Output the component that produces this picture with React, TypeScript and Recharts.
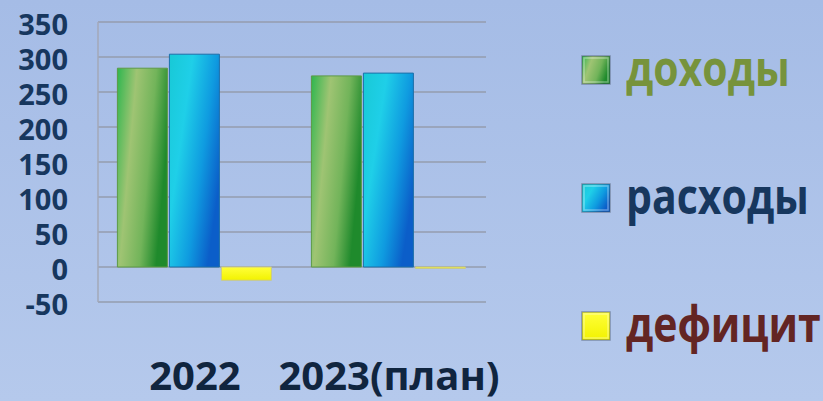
import React from 'react';
import { BarChart, Bar, XAxis, YAxis, CartesianGrid, Legend } from 'recharts';

const years = ['2022', '2023(план)'];
const income = [284, 273];
const expenses = [304, 277];
const deficit = [-19, -2];
const yTicks = [-50, 0, 50, 100, 150, 200, 250, 300, 350];

const seriesNames = ['доходы', 'расходы', 'дефицит'];
const seriesFills = ['url(#gIncome)', 'url(#gExpenses)', 'url(#gDeficit)'];
const legendTextColors = ['#77933c', '#17375e', '#632523'];

const data = years.map((year, i) => ({
  year,
  income: income[i],
  expenses: expenses[i],
  deficit: deficit[i],
}));

const font = '"Open Sans", "Noto Sans", sans-serif';

const LegendList = () => (
  <div style={{ fontFamily: font }}>
    {seriesNames.map((name, i) => (
      <div
        key={name}
        style={{ display: 'flex', alignItems: 'center', height: 128 }}
      >
        <svg width={30} height={30} style={{ marginRight: 15, flex: 'none' }}>
          <rect x={1} y={1} width={28} height={28} fill={seriesFills[i]} stroke="rgba(60,70,90,0.45)" strokeWidth={1.5} />
          <rect x={3} y={3} width={24} height={24} fill="none" stroke="rgba(255,255,255,0.35)" strokeWidth={1.5} />
        </svg>
        <span
          style={{
            fontSize: 50,
            fontWeight: 700,
            color: legendTextColors[i],
            lineHeight: 1,
            whiteSpace: 'nowrap',
            display: 'inline-block',
            transform: 'scaleX(0.82)',
            transformOrigin: 'left center',
            marginTop: -6,
          }}
        >
          {name}
        </span>
      </div>
    ))}
  </div>
);

const App: React.FC = () => {
  return (
    <div
      style={{
        position: 'absolute',
        left: 0,
        top: 0,
        width: 823,
        height: 401,
        background: 'linear-gradient(180deg, #a5bce6 0%, #b5c9ec 100%)',
        overflow: 'hidden',
      }}
    >
      <BarChart
        width={823}
        height={401}
        data={data}
        margin={{ top: 22, right: 337, bottom: 0, left: 0 }}
        barCategoryGap="10%"
        barGap={2}
      >
        <defs>
          <linearGradient id="gIncome" x1="0" y1="0" x2="1" y2="0.35">
            <stop offset="0%" stopColor="#2fb64f" />
            <stop offset="35%" stopColor="#9fc473" />
            <stop offset="70%" stopColor="#72b45a" />
            <stop offset="100%" stopColor="#1f8a2c" />
          </linearGradient>
          <linearGradient id="gExpenses" x1="0" y1="0" x2="1" y2="0.6">
            <stop offset="0%" stopColor="#18c9d6" />
            <stop offset="35%" stopColor="#1fcfe8" />
            <stop offset="70%" stopColor="#0f9be0" />
            <stop offset="100%" stopColor="#0b5ec9" />
          </linearGradient>
          <linearGradient id="gDeficit" x1="0" y1="0" x2="0" y2="1">
            <stop offset="0%" stopColor="#ffff3a" />
            <stop offset="100%" stopColor="#f2f200" />
          </linearGradient>
        </defs>
        <CartesianGrid vertical={false} stroke="#959cae" strokeWidth={1.5} />
        <XAxis
          dataKey="year"
          axisLine={false}
          tickLine={false}
          tickSize={0}
          tickMargin={60}
          height={99}
          interval={0}
          tick={{ fill: '#10253f', fontSize: 40, fontWeight: 700, fontFamily: font }}
        />
        <YAxis
          domain={[-50, 350]}
          ticks={yTicks}
          interval={0}
          width={98}
          axisLine={{ stroke: '#a3a9b8', strokeWidth: 1.5 }}
          tickLine={false}
          tickSize={0}
          tickMargin={30}
          tick={{ fill: '#17375e', fontSize: 29, fontWeight: 700, fontFamily: font, dy: 3 }}
        />
        <Legend
          layout="horizontal"
          verticalAlign="middle"
          align="center"
          content={<LegendList />}
          wrapperStyle={{ left: 581, top: 6, width: 242 }}
        />
        <Bar dataKey="income" name={seriesNames[0]} fill={seriesFills[0]} stroke="#5d9a45" strokeWidth={1} isAnimationActive={false} />
        <Bar dataKey="expenses" name={seriesNames[1]} fill={seriesFills[1]} stroke="#1d6fa8" strokeWidth={1} isAnimationActive={false} />
        <Bar dataKey="deficit" name={seriesNames[2]} fill={seriesFills[2]} stroke="#c9c98a" strokeWidth={1} isAnimationActive={false} />
      </BarChart>
    </div>
  );
};

export default App;
